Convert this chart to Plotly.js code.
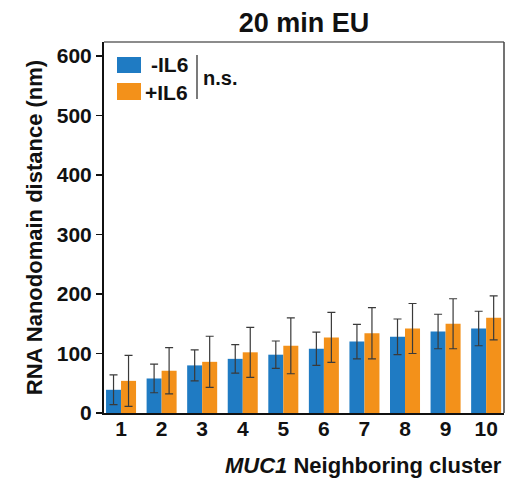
<!DOCTYPE html>
<html>
<head>
<meta charset="utf-8">
<script src="https://cdn.plot.ly/plotly-3.0.1.min.js"></script>
<style>html,body{margin:0;padding:0;background:#fff;}#chart{width:516px;height:483px;}</style>
</head>
<body>
<div id="chart"></div>
<script>
const clusters = [1, 2, 3, 4, 5, 6, 7, 8, 9, 10];
const minusIL6 = [39, 58, 80, 91, 98, 108, 120, 128, 137, 142];
const minusIL6Err = [25, 24, 26, 24, 23, 28, 29, 30, 29, 29];
const plusIL6 = [54, 71, 86, 102, 113, 127, 134, 142, 150, 160];
const plusIL6Err = [43, 39, 43, 42, 47, 42, 43, 42, 42, 37];
const seriesNames = ['-IL6', '+IL6'];
const yTicks = [0, 100, 200, 300, 400, 500, 600];

const FONT = 'Liberation Sans, Arial, sans-serif';
const BLUE = '#1f7bc3';
const ORANGE = '#f3911a';
const ERR = '#3a3a3a';

const traces = [
  {type: 'bar', x: clusters, y: minusIL6, name: seriesNames[0], marker: {color: BLUE},
   error_y: {type: 'data', array: minusIL6Err, visible: true, color: ERR, thickness: 1.2, width: 4}},
  {type: 'bar', x: clusters, y: plusIL6, name: seriesNames[1], marker: {color: ORANGE},
   error_y: {type: 'data', array: plusIL6Err, visible: true, color: ERR, thickness: 1.2, width: 4}}
];

const layout = {
  width: 516, height: 483,
  margin: {l: 104, r: 12, t: 42, b: 70},
  paper_bgcolor: '#fff', plot_bgcolor: '#fff',
  showlegend: false,
  barmode: 'group', bargap: 0.26, bargroupgap: 0,
  title: {text: '20 min EU', font: {family: FONT, size: 27, color: '#111', weight: 'bold'},
          x: 0.5, xanchor: 'center', xref: 'paper', y: 0.953, yanchor: 'middle'},
  xaxis: {range: [0.58, 10.44], tickvals: clusters, ticktext: clusters.map(String),
          showgrid: false, zeroline: false, showline: true, linecolor: '#111', linewidth: 2,
          ticks: '', ticklabelstandoff: -4,
          tickfont: {family: FONT, size: 21, color: '#111', weight: 'bold'}},
  yaxis: {range: [0, 623.5], tickvals: yTicks, showgrid: false, zeroline: false,
          showline: true, linecolor: '#111', linewidth: 2,
          ticks: 'outside', ticklen: 6, tickwidth: 1.5, tickcolor: '#111', ticklabelstandoff: 0,
          tickfont: {family: FONT, size: 21, color: '#111', weight: 'bold'},
          title: {text: 'RNA Nanodomain distance (nm)', standoff: 8,
                  font: {family: FONT, size: 22, color: '#111', weight: 'bold'}}},
  shapes: [
    {type: 'line', xref: 'paper', yref: 'paper', x0: 0, x1: 1, y0: 1, y1: 1, line: {color: '#666', width: 1.5}},
    {type: 'line', xref: 'paper', yref: 'paper', x0: 1, x1: 1, y0: 0, y1: 1, line: {color: '#444', width: 1.5}},
    {type: 'rect', xref: 'paper', yref: 'paper', x0: 13/400, x1: 37/400, y0: 1 - 31/371, y1: 1 - 15/371, fillcolor: BLUE, line: {width: 0}},
    {type: 'rect', xref: 'paper', yref: 'paper', x0: 13/400, x1: 37/400, y0: 1 - 58/371, y1: 1 - 41/371, fillcolor: ORANGE, line: {width: 0}},
    {type: 'line', xref: 'paper', yref: 'paper', x0: 93/400, x1: 93/400, y0: 1 - 57/371, y1: 1 - 13/371, line: {color: '#222', width: 1.2}}
  ],
  annotations: [
    {xref: 'paper', yref: 'paper', x: 86/400, y: 1 - 23/371, xanchor: 'right', yanchor: 'middle', showarrow: false,
     text: seriesNames[0], font: {family: FONT, size: 21, color: '#111', weight: 'bold'}},
    {xref: 'paper', yref: 'paper', x: 86/400, y: 1 - 50/371, xanchor: 'right', yanchor: 'middle', showarrow: false,
     text: seriesNames[1], font: {family: FONT, size: 21, color: '#111', weight: 'bold'}},
    {xref: 'paper', yref: 'paper', x: 97/400, y: 1 - 36/371, xanchor: 'left', yanchor: 'middle', showarrow: false,
     text: 'n.s.', font: {family: FONT, size: 20, color: '#111', weight: 'bold'}},
    {xref: 'paper', yref: 'paper', x: 1, y: -52/371, xanchor: 'right', yanchor: 'middle', showarrow: false,
     text: '<i>MUC1</i> Neighboring cluster', font: {family: FONT, size: 22, color: '#111', weight: 'bold'}}
  ]
};

Plotly.newPlot('chart', traces, layout, {displayModeBar: false, staticPlot: true});
</script>
</body>
</html>
